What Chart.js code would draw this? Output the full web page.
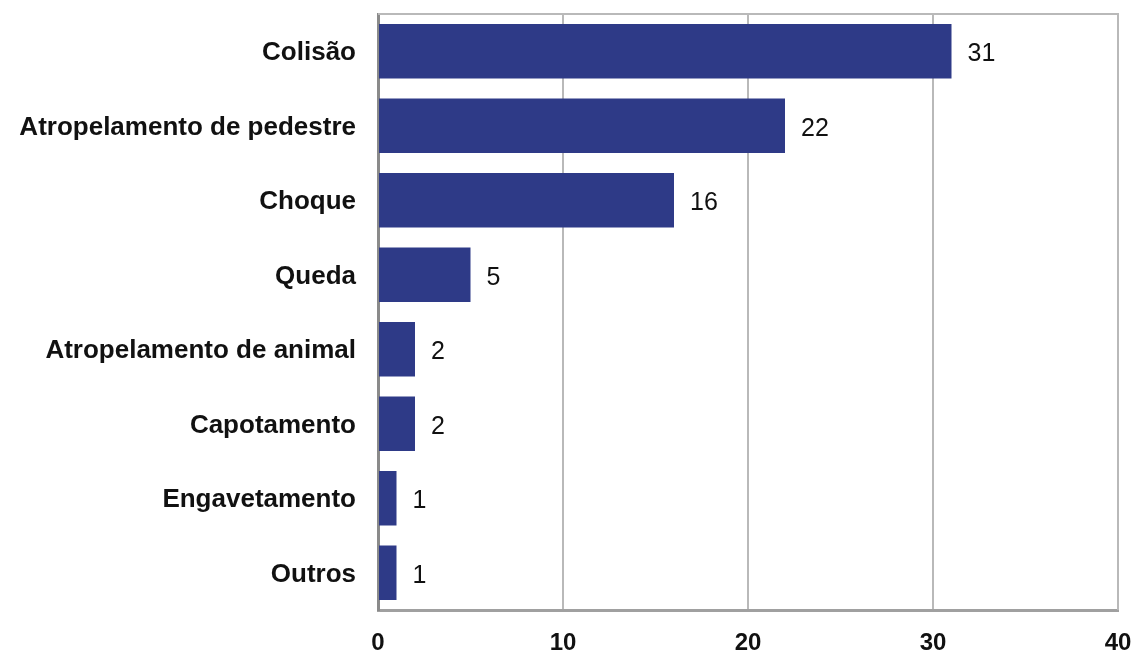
<!DOCTYPE html>
<html>
<head>
<meta charset="utf-8">
<script src="https://cdn.jsdelivr.net/npm/chart.js@4.4.0/dist/chart.umd.min.js"></script>
<style>
  html, body { margin: 0; padding: 0; background: #fff; }
  #wrap { width: 1135px; height: 653px; }
</style>
</head>
<body>
<div id="wrap"><canvas id="myChart"></canvas></div>
<script>
const categories = ['Colisão', 'Atropelamento de pedestre', 'Choque', 'Queda',
  'Atropelamento de animal', 'Capotamento', 'Engavetamento', 'Outros'];
const counts = [31, 22, 16, 5, 2, 2, 1, 1];
const xTicks = [0, 10, 20, 30, 40];

const FONT = 'Arial, "Liberation Sans", sans-serif';

// value next to each bar + box around the plot area
const barValues = {
  id: 'barValues',
  afterDatasetsDraw(chart) {
    const ctx = chart.ctx;
    const meta = chart.getDatasetMeta(0);
    ctx.save();
    ctx.font = '25px ' + FONT;
    ctx.fillStyle = '#111';
    ctx.textBaseline = 'middle';
    meta.data.forEach((bar, i) => {
      ctx.fillText(String(counts[i]), bar.x + 16, bar.y + 3);
    });
    ctx.restore();
  },
  beforeDatasetsDraw(chart) {
    const a = chart.chartArea;
    const ctx = chart.ctx;
    ctx.save();
    ctx.strokeStyle = '#b9b9b9';
    ctx.lineWidth = 2;
    ctx.beginPath();
    ctx.moveTo(a.left, a.top);
    ctx.lineTo(a.right, a.top);
    ctx.lineTo(a.right, a.bottom);
    ctx.stroke();
    ctx.restore();
  }
};

const ctx = document.getElementById('myChart').getContext('2d');
const myChart = new Chart(ctx, {
  type: 'bar',
  data: {
    labels: categories,
    datasets: [{
      data: counts,
      backgroundColor: '#2e3a87',
      borderWidth: 0,
      barPercentage: 0.73,
      categoryPercentage: 1
    }]
  },
  options: {
    indexAxis: 'y',
    responsive: true,
    maintainAspectRatio: false,
    animation: false,
    layout: { padding: { top: 14, right: 17, left: 0, bottom: 0 } },
    plugins: {
      legend: { display: false },
      tooltip: { enabled: false }
    },
    scales: {
      x: {
        min: 0,
        max: 40,
        afterBuildTicks: (axis) => { axis.ticks = xTicks.map(v => ({ value: v })); },
        afterFit: (axis) => {
          axis.height = 43;
          axis.paddingLeft = 0;
          axis.paddingRight = 0;
        },
        grid: {
          color: (c) => c.tick && c.tick.value === 0 ? 'rgba(0,0,0,0)' : '#b9b9b9',
          lineWidth: 2,
          drawTicks: false
        },
        border: { color: '#a0a0a0', width: 3 },
        ticks: {
          color: '#111',
          font: { family: FONT, size: 24, weight: 'bold' },
          padding: 19,
          maxRotation: 0
        }
      },
      y: {
        afterFit: (axis) => {
          axis.width = 378;
          axis.paddingTop = 0;
          axis.paddingBottom = 0;
        },
        grid: { display: false, drawTicks: false },
        border: { color: '#8a8a8a', width: 3 },
        ticks: {
          color: '#111',
          font: { family: FONT, size: 26, weight: 'bold' },
          padding: 22,
          labelOffset: 2
        }
      }
    }
  },
  plugins: [barValues]
});
</script>
</body>
</html>
